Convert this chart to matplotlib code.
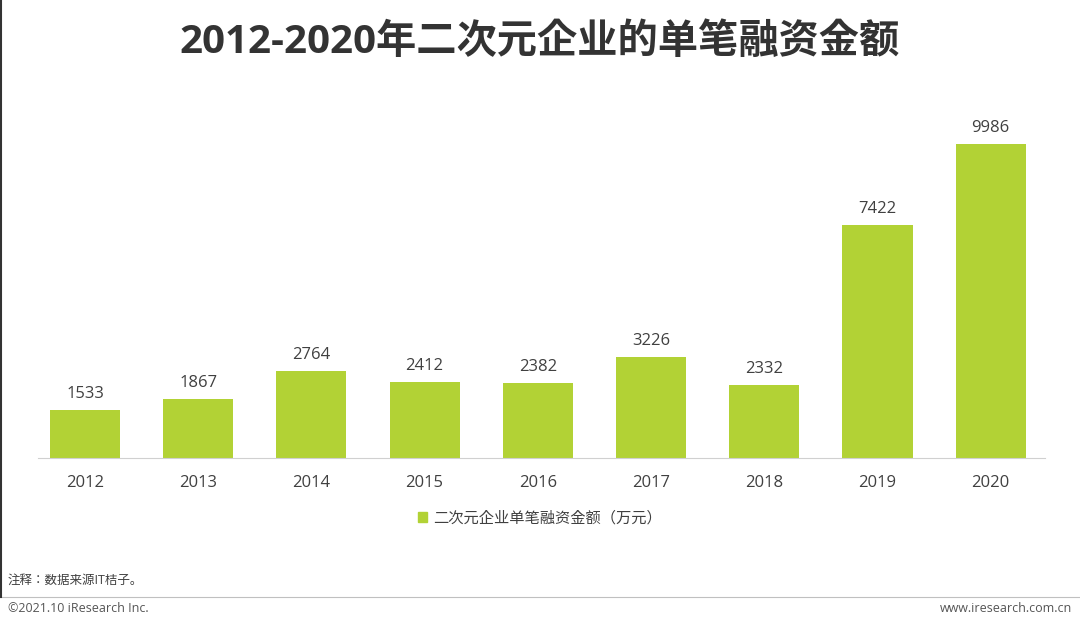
import matplotlib.pyplot as plt
from matplotlib.lines import Line2D
from matplotlib.patches import Patch

plt.rcParams['font.family'] = ['Open Sans', 'Noto Sans CJK JP', 'DejaVu Sans']

years = ['2012', '2013', '2014', '2015', '2016', '2017', '2018', '2019', '2020']
amounts = [1533, 1867, 2764, 2412, 2382, 3226, 2332, 7422, 9986]
series_name = '二次元企业单笔融资金额（万元）'
bar_color = '#b2d235'

fig = plt.figure(figsize=(10.8, 6.29), dpi=100)
ax = fig.add_axes([38 / 1080, 1 - 458 / 629, 1007 / 1080, 330 / 629])

x = range(len(years))
ax.bar(x, amounts, width=0.62, color=bar_color)
for i, v in zip(x, amounts):
    ax.text(i, v + 250, str(v), ha='center', va='bottom', fontsize=12, color='#404040')

ax.set_xlim(-0.415, 8.48)
ax.set_ylim(0, 10500)
ax.set_xticks(list(x))
ax.set_xticklabels(years, fontsize=12, color='#404040')
ax.tick_params(axis='x', length=0, pad=12)
ax.set_yticks([])
for s in ['top', 'right', 'left']:
    ax.spines[s].set_visible(False)
ax.spines['bottom'].set_color('#d0d0d0')

fig.text(0.5, 1 - 42 / 629, '2012-2020年二次元企业的单笔融资金额', ha='center', va='center',
         fontsize=29, fontweight='bold', color='#333333')

fig.legend(handles=[Patch(color=bar_color, label=series_name)], loc='center',
           bbox_to_anchor=(0.5, 1 - 519 / 629), frameon=False, fontsize=11,
           handlelength=0.6, handleheight=0.6, handletextpad=0.4, labelcolor='#404040')

fig.text(8 / 1080, 1 - 580 / 629, '注释：数据来源IT桔子。', fontsize=9, color='#404040', va='center')
fig.add_artist(Line2D([0, 1], [1 - 597 / 629] * 2, color='#c0c0c0', lw=0.8))
fig.text(8 / 1080, 1 - 609 / 629, '©2021.10 iResearch Inc.', fontsize=9, color='#555555', va='center')
fig.text(1072 / 1080, 1 - 609 / 629, 'www.iresearch.com.cn', fontsize=9, color='#555555',
         va='center', ha='right')
fig.add_artist(Line2D([1 / 1080] * 2, [1 - 597 / 629, 1], color='#333333', lw=1.5))

fig.savefig('out.png', dpi=100)
